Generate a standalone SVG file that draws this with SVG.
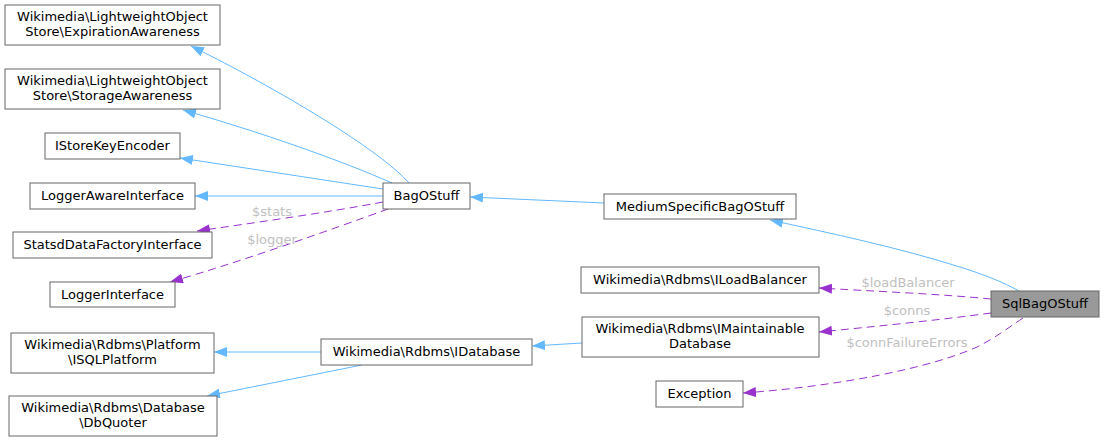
<svg xmlns="http://www.w3.org/2000/svg" width="1104" height="441" viewBox="0 0 1104 441">
<style>
  .node rect { fill: #ffffff; stroke: #666666; stroke-width: 1; }
  .node.cur rect { fill: #999999; }
  .node text { font-family: "DejaVu Sans", sans-serif; font-size: 13px; fill: #000000; text-anchor: middle; }
  .inh { fill: none; stroke: #63b8ff; stroke-width: 1; marker-end: url(#ab); }
  .use { fill: none; stroke: #9a32cd; stroke-width: 1; stroke-dasharray: 8,5; marker-end: url(#ap); }
  .lbl { font-family: "DejaVu Sans", sans-serif; font-size: 13px; fill: #c0c0c0; text-anchor: middle; }
</style>
<defs>
  <marker id="ab" viewBox="0 0 13 10" refX="13" refY="5" markerWidth="13" markerHeight="10" markerUnits="userSpaceOnUse" orient="auto">
    <path d="M0,0 L13,5 L0,10 z" fill="#63b8ff"/>
  </marker>
  <marker id="ap" viewBox="0 0 13 10" refX="13" refY="5" markerWidth="13" markerHeight="10" markerUnits="userSpaceOnUse" orient="auto">
    <path d="M0,0 L13,5 L0,10 z" fill="#9a32cd"/>
  </marker>
</defs>
<rect width="1104" height="441" fill="#ffffff"/>
<g id="connectors">
  <path class="inh" d="M409,183 C380,150 280,90 191,46"/>
  <path class="inh" d="M392,183 C340,160 260,132 183,110"/>
  <path class="inh" d="M383,189 L180,158"/>
  <path class="inh" d="M383,196 L195,196"/>
  <path class="use" d="M383,202 C330,212 260,222 197,231"/>
  <text class="lbl" x="272" y="216">$stats</text>
  <path class="use" d="M388,209 C330,230 240,262 170,282"/>
  <text class="lbl" x="272" y="244">$logger</text>
  <path class="inh" d="M604,203 L470,197"/>
  <path class="inh" d="M1019,291 C1003,282 985,275 960,267 C900,248 830,233 770,220"/>
  <path class="use" d="M991,299 C940,294 870,291 819,288"/>
  <text class="lbl" x="908" y="287">$loadBalancer</text>
  <path class="use" d="M991,313 C940,320 870,327 819,332"/>
  <text class="lbl" x="907" y="315">$conns</text>
  <path class="use" d="M1023,318 C1005,330 995,338 977,347 C930,368 840,386 743,393"/>
  <text class="lbl" x="907" y="347">$connFailureErrors</text>
  <path class="inh" d="M582,343 L532,346"/>
  <path class="inh" d="M321,352 L214,352"/>
  <path class="inh" d="M362,365 L207,396"/>
</g>
<g id="n_exp" class="node"><rect x="5" y="5" width="215" height="40"/><text x="112.5" y="21">Wikimedia\LightweightObject</text><text x="112.5" y="36">Store\ExpirationAwareness</text></g>
<g id="n_stor" class="node"><rect x="5" y="69" width="215" height="40"/><text x="112.5" y="85">Wikimedia\LightweightObject</text><text x="112.5" y="100">Store\StorageAwareness</text></g>
<g id="n_iskey" class="node"><rect x="45" y="133" width="135" height="26"/><text x="112.5" y="150">IStoreKeyEncoder</text></g>
<g id="n_lai" class="node"><rect x="30" y="183" width="165" height="26"/><text x="112.5" y="200">LoggerAwareInterface</text></g>
<g id="n_statsd" class="node"><rect x="13" y="232" width="199" height="26"/><text x="112.5" y="249">StatsdDataFactoryInterface</text></g>
<g id="n_li" class="node"><rect x="50" y="282" width="125" height="25"/><text x="112.5" y="299">LoggerInterface</text></g>
<g id="n_bag" class="node"><rect x="383" y="183" width="87" height="26"/><text x="426.5" y="200">BagOStuff</text></g>
<g id="n_msb" class="node"><rect x="604" y="194" width="192" height="25"/><text x="700" y="211">MediumSpecificBagOStuff</text></g>
<g id="n_ilb" class="node"><rect x="581" y="267" width="238" height="26"/><text x="700" y="284">Wikimedia\Rdbms\ILoadBalancer</text></g>
<g id="n_imd" class="node"><rect x="582" y="317" width="237" height="40"/><text x="700" y="333">Wikimedia\Rdbms\IMaintainable</text><text x="700" y="348">Database</text></g>
<g id="n_exc" class="node"><rect x="656" y="381" width="87" height="26"/><text x="699.5" y="398">Exception</text></g>
<g id="n_sql" class="node cur"><rect x="991" y="291" width="108" height="26"/><text x="1045" y="308">SqlBagOStuff</text></g>
<g id="n_isql" class="node"><rect x="11" y="333" width="203" height="40"/><text x="112.5" y="349">Wikimedia\Rdbms\Platform</text><text x="112.5" y="364">\ISQLPlatform</text></g>
<g id="n_idb" class="node"><rect x="321" y="339" width="211" height="26"/><text x="426.5" y="356">Wikimedia\Rdbms\IDatabase</text></g>
<g id="n_dbq" class="node"><rect x="9" y="396" width="208" height="40"/><text x="113" y="412">Wikimedia\Rdbms\Database</text><text x="113" y="427">\DbQuoter</text></g>
</svg>
